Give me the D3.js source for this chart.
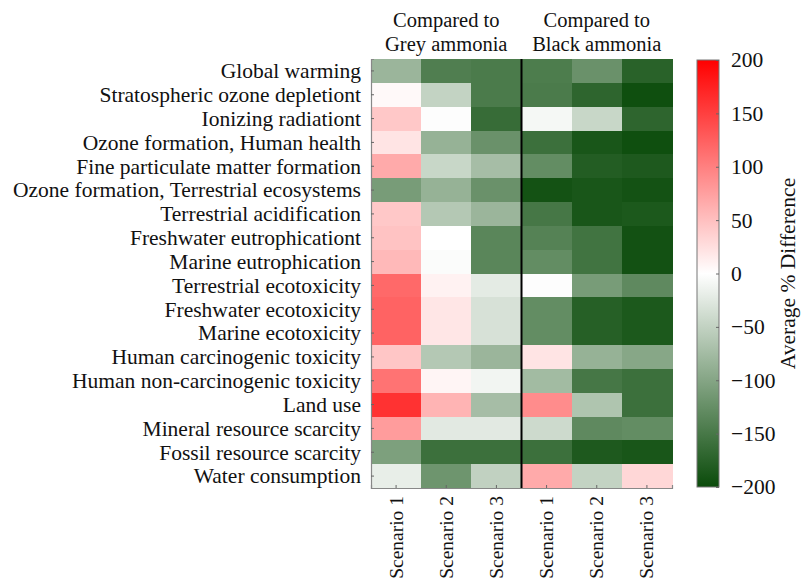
<!DOCTYPE html>
<html>
<head>
<meta charset="utf-8">
<script src="https://cdn.jsdelivr.net/npm/d3@7/dist/d3.min.js"></script>
<style>
  html, body { margin: 0; padding: 0; background: #fff; }
  svg text { font-family: "Liberation Serif", "Times New Roman", serif; fill: #111; }
</style>
</head>
<body>
<svg id="chart" width="802" height="583"></svg>
<script>
// Impact categories (rows, top to bottom)
const categories = [
  "Global warming",
  "Stratospheric ozone depletiont",
  "Ionizing radiationt",
  "Ozone formation, Human health",
  "Fine particulate matter formation",
  "Ozone formation, Terrestrial ecosystems",
  "Terrestrial acidification",
  "Freshwater eutrophicationt",
  "Marine eutrophication",
  "Terrestrial ecotoxicity",
  "Freshwater ecotoxicity",
  "Marine ecotoxicity",
  "Human carcinogenic toxicity",
  "Human non-carcinogenic toxicity",
  "Land use",
  "Mineral resource scarcity",
  "Fossil resource scarcity",
  "Water consumption"
];

// Column labels and group titles
const scenarios = ["Scenario 1", "Scenario 2", "Scenario 3"];
const groups = ["Compared to\nGrey ammonia", "Compared to\nBlack ammonia"];

// Average % difference versus grey ammonia (Scenario 1, 2, 3 per category)
const greyValues = [
  [-82, -143, -147],
  [5, -49, -147],
  [43, -2, -163],
  [21, -86, -122],
  [67, -45, -73],
  [-110, -86, -122],
  [43, -61, -82],
  [47, 0, -135],
  [55, -3, -135],
  [118, 10, -22],
  [122, 20, -33],
  [122, 20, -33],
  [45, -61, -82],
  [110, 8, -11],
  [161, 59, -73],
  [78, -24, -24],
  [-106, -159, -159],
  [-19, -118, -51]
];

// Average % difference versus black ammonia (Scenario 1, 2, 3 per category)
const blackValues = [
  [-145, -122, -175],
  [-147, -171, -196],
  [-8, -45, -171],
  [-159, -188, -196],
  [-127, -180, -184],
  [-192, -188, -192],
  [-151, -188, -185],
  [-139, -155, -193],
  [-127, -155, -193],
  [-2, -110, -131],
  [-127, -177, -185],
  [-127, -177, -185],
  [21, -86, -98],
  [-76, -151, -159],
  [90, -65, -159],
  [-41, -131, -127],
  [-159, -184, -188],
  [67, -49, 31]
];

// Colour bar ticks
const colorTicks = [200, 150, 100, 50, 0, -50, -100, -150, -200];

const FONT = "'Liberation Serif', 'Times New Roman', serif";
const FS = 21.5;

const svg = d3.select("#chart");

const hm = { left: 371, right: 672, top: 59, bottom: 488 };
const cb = { left: 697, right: 719, top: 60, bottom: 487 };

const columnKeys = d3.range(6);
const x = d3.scaleBand().domain(columnKeys).range([hm.left, hm.right]).paddingInner(0).paddingOuter(0);
const y = d3.scaleBand().domain(categories).range([hm.top, hm.bottom]).paddingInner(0).paddingOuter(0);

const color = d3.scaleLinear()
  .domain([-200, 0, 200])
  .range(["#0a4b0a", "#ffffff", "#ff0000"])
  .clamp(true);

// Flatten into cells
const cells = [];
categories.forEach((cat, i) => {
  greyValues[i].forEach((v, j) => cells.push({ cat, col: j, value: v }));
  blackValues[i].forEach((v, j) => cells.push({ cat, col: j + 3, value: v }));
});

svg.append("g")
  .selectAll("rect")
  .data(cells)
  .join("rect")
  .attr("x", d => x(d.col))
  .attr("y", d => y(d.cat))
  .attr("width", x.bandwidth() + 0.5)
  .attr("height", y.bandwidth() + 0.5)
  .attr("fill", d => color(d.value))
  .attr("shape-rendering", "crispEdges");

// Divider between the two comparison groups
svg.append("line")
  .attr("x1", x(3)).attr("x2", x(3))
  .attr("y1", hm.top).attr("y2", hm.bottom)
  .attr("stroke", "#000").attr("stroke-width", 2);

// Left axis with category names
const yAxis = d3.axisLeft(y).tickSize(-3).tickPadding(10);
const gy = svg.append("g").attr("transform", `translate(${hm.left},0)`).call(yAxis)
  .attr("font-family", FONT).attr("font-size", FS);
gy.select(".domain").attr("stroke", "#888").attr("stroke-width", 1.2);
gy.selectAll(".tick line").attr("stroke", "#666");
gy.selectAll(".tick text").attr("fill", "#111").attr("dy", "0.34em");

// Bottom axis with scenario names (rotated)
const xAxis = d3.axisBottom(x).tickSize(-3).tickFormat(d => scenarios[d % 3]);
const gx = svg.append("g").attr("transform", `translate(0,${hm.bottom})`).call(xAxis)
  .attr("font-family", FONT).attr("font-size", 19.5);
gx.select(".domain").attr("stroke", "#888").attr("stroke-width", 1.2);
gx.selectAll(".tick line").attr("stroke", "#666");
gx.selectAll(".tick text")
  .attr("fill", "#111")
  .attr("transform", "rotate(-90)")
  .attr("text-anchor", "end")
  .attr("dy", "0.33em")
  .attr("x", -8)
  .attr("y", 0);

// Group titles above the heatmap
groups.forEach((g, k) => {
  const cx = (x(k * 3) + x(k * 3 + 2) + x.bandwidth()) / 2;
  const t = svg.append("text")
    .attr("x", cx)
    .attr("y", 27)
    .attr("text-anchor", "middle")
    .attr("font-family", FONT)
    .attr("font-size", 20.5);
  g.split("\n").forEach((line, li) => {
    t.append("tspan").attr("x", cx).attr("dy", li === 0 ? 0 : 24).text(line);
  });
});

// Colour bar
const defs = svg.append("defs");
const grad = defs.append("linearGradient")
  .attr("id", "cbar")
  .attr("x1", 0).attr("y1", 1).attr("x2", 0).attr("y2", 0);
d3.range(0, 1.0001, 0.05).forEach(t => {
  grad.append("stop")
    .attr("offset", t)
    .attr("stop-color", color(-200 + 400 * t));
});

svg.append("rect")
  .attr("x", cb.left).attr("y", cb.top)
  .attr("width", cb.right - cb.left).attr("height", cb.bottom - cb.top)
  .attr("fill", "url(#cbar)")
  .attr("stroke", "#777").attr("stroke-width", 1);

const cy = d3.scaleLinear().domain([-200, 200]).range([cb.bottom, cb.top]);
const cAxis = d3.axisRight(cy)
  .tickValues(colorTicks)
  .tickSize(-3)
  .tickPadding(12)
  .tickFormat(d => d < 0 ? "\u2212" + Math.abs(d) : String(d));
const gc = svg.append("g").attr("transform", `translate(${cb.right},0)`).call(cAxis)
  .attr("font-family", FONT).attr("font-size", FS);
gc.select(".domain").remove();
gc.selectAll(".tick line").attr("stroke", "#666");
gc.selectAll(".tick text").attr("fill", "#111");

svg.append("text")
  .attr("transform", `translate(795,${(cb.top + cb.bottom) / 2}) rotate(-90)`)
  .attr("text-anchor", "middle")
  .attr("font-family", FONT)
  .attr("font-size", FS)
  .text("Average % Difference");
</script>
</body>
</html>
